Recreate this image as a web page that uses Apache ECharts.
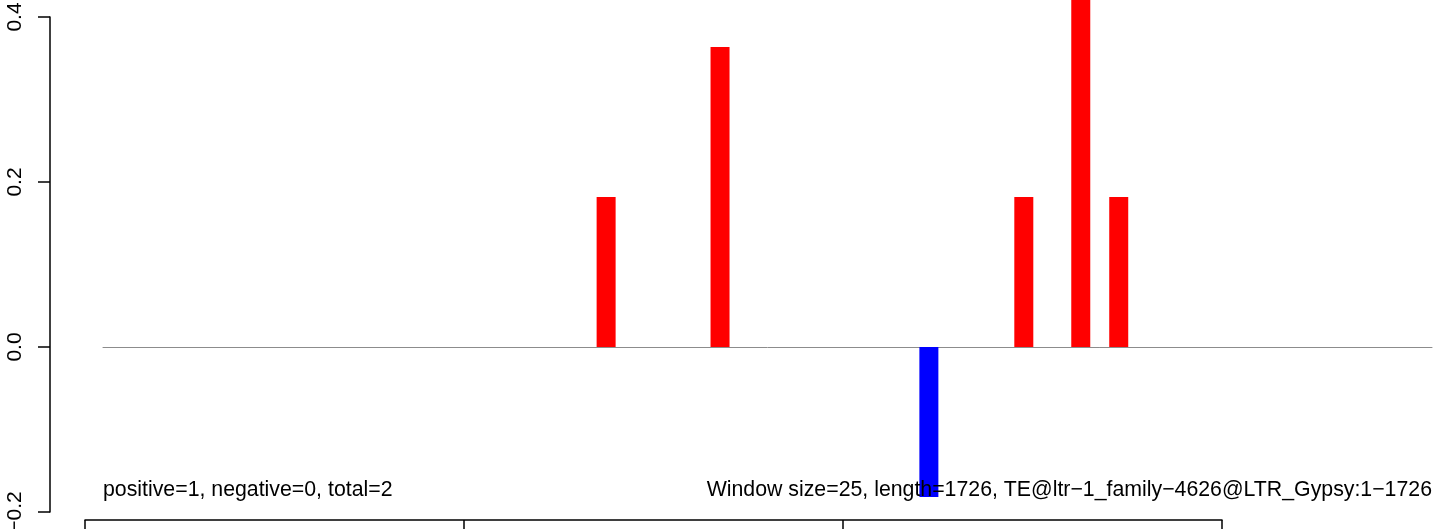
<!DOCTYPE html>
<html>
<head>
<meta charset="utf-8">
<script src="https://cdn.jsdelivr.net/npm/echarts@6/dist/echarts.min.js"></script>
<style>
  html, body { margin: 0; padding: 0; background: #fff; }
  #main { width: 1444px; height: 529px; }
</style>
</head>
<body>
<div id="main"></div>
<script>
// window scores, one per 25 bp window (70 windows over 1726 bp)
const windowValues = [
  0, 0, 0, 0, 0, 0, 0, 0, 0, 0,
  0, 0, 0, 0, 0, 0, 0, 0, 0, 0,
  0, 0, 0, 0, 0, 0, 0.1818, 0, 0, 0,
  0, 0, 0.3636, 0, 0, 0, 0, 0, 0, 0,
  0, 0, 0, -0.1818, 0, 0, 0, 0, 0.1818, 0,
  0, 0.5455, 0, 0.1818, 0, 0, 0, 0, 0, 0,
  0, 0, 0, 0, 0, 0, 0, 0, 0, 0
];
const yTicks = [-0.2, 0.0, 0.2, 0.4];
const bottomTicks = [0, 1, 2, 3];
const leftNote = 'positive=1, negative=0, total=2';
const rightNote = 'Window size=25, length=1726, TE@ltr\u22121_family\u22124626@LTR_Gypsy:1\u22121726';

const FONT = '"Liberation Sans", Arial, sans-serif';

const barData = windowValues.map((v, i) => ({
  value: [i + 0.5, v],
  itemStyle: { color: v < 0 ? '#0000ff' : '#ff0000' }
}));

const chart = echarts.init(document.getElementById('main'));
chart.setOption({
  backgroundColor: '#ffffff',
  animation: false,
  grid: [
    { left: 103, right: 12, top: 17, bottom: 17, outerBoundsMode: 'none', containLabel: false },
    { left: 85, right: 222, top: 520, bottom: 9, outerBoundsMode: 'none', containLabel: false }
  ],
  xAxis: [
    {
      type: 'value', gridIndex: 0, min: 0, max: windowValues.length,
      axisLine: { show: true, onZero: true, lineStyle: { color: '#8c8c8c', width: 1 } },
      axisTick: { show: false }, axisLabel: { show: false }, splitLine: { show: false }
    },
    {
      type: 'value', gridIndex: 1, position: 'bottom',
      min: bottomTicks[0], max: bottomTicks[bottomTicks.length - 1], interval: 1,
      axisLine: { show: true, onZero: false, lineStyle: { color: '#000', width: 1.5 } },
      axisTick: { show: true, length: 10, lineStyle: { color: '#000', width: 1.5 } },
      axisLabel: { show: false }, splitLine: { show: false }
    }
  ],
  yAxis: [
    {
      type: 'value', gridIndex: 0, position: 'left', offset: 53,
      min: yTicks[0], max: yTicks[yTicks.length - 1], interval: 0.2,
      axisLine: { show: true, onZero: false, lineStyle: { color: '#000', width: 1.5 } },
      axisTick: { show: true, length: 12, lineStyle: { color: '#000', width: 1.5 } },
      axisLabel: {
        rotate: 90, margin: 24, color: '#000', fontSize: 21, fontFamily: FONT,
        formatter: v => v.toFixed(1).replace('-', '\u2212')
      },
      splitLine: { show: false }
    },
    {
      type: 'value', gridIndex: 1, show: false, min: 0, max: 1
    }
  ],
  series: [{
    type: 'bar',
    xAxisIndex: 0, yAxisIndex: 0,
    barWidth: 19,
    clip: false,
    data: barData
  }],
  graphic: [
    {
      type: 'text', x: 103, y: 490, z: 100,
      style: { text: leftNote, font: '21.3px ' + FONT, fill: '#000', textVerticalAlign: 'middle' }
    },
    {
      type: 'text', x: 1432, y: 490, z: 100,
      style: { text: rightNote, font: '21.3px ' + FONT, fill: '#000', textAlign: 'right', textVerticalAlign: 'middle' }
    }
  ]
});
</script>
</body>
</html>
